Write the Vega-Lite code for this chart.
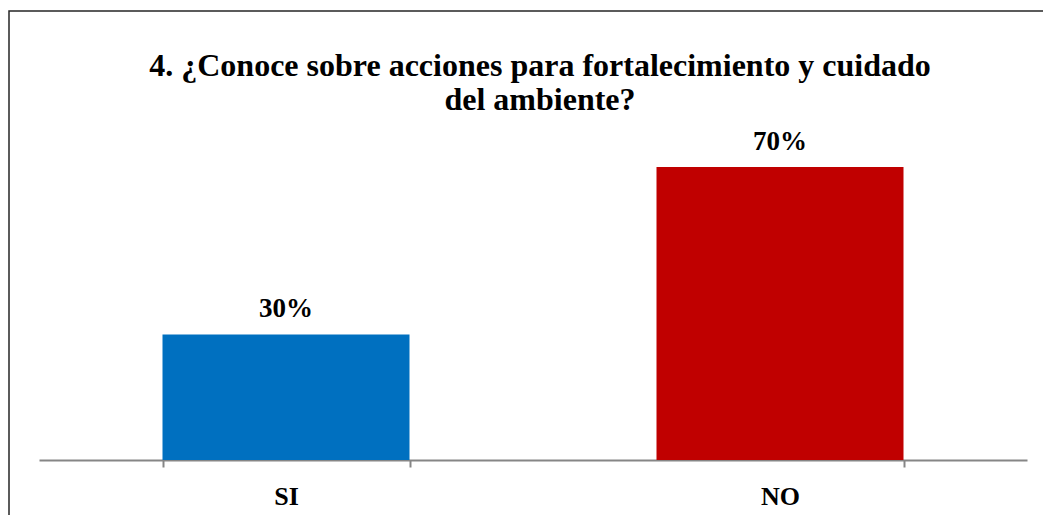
{
  "$schema": "https://vega.github.io/schema/vega-lite/v6.json",
  "autosize": "none",
  "padding": {"left": 9, "top": 11, "right": 0, "bottom": 0},
  "width": 1062,
  "height": 600,
  "background": "white",
  "config": {
    "view": {"stroke": "#262626", "strokeWidth": 1.5},
    "font": "Liberation Serif",
    "title": {"font": "Liberation Serif", "fontWeight": "bold"}
  },
  "title": {
    "text": ["4. ¿Conoce sobre acciones para fortalecimiento  y cuidado", "del ambiente?"],
    "anchor": "middle",
    "frame": "group",
    "orient": "top",
    "baseline": "alphabetic",
    "offset": -131,
    "fontSize": 32,
    "fontWeight": "bold",
    "font": "Liberation Serif",
    "color": "black",
    "lineHeight": 34
  },
  "data": {
    "values": [
      {"respuesta": "SI", "porcentaje": 0.30},
      {"respuesta": "NO", "porcentaje": 0.70}
    ]
  },
  "encoding": {
    "x": {
      "field": "respuesta",
      "type": "nominal",
      "sort": ["SI", "NO"],
      "scale": {"range": [30, 1018], "paddingInner": 0.5, "paddingOuter": 0.25},
      "axis": {
        "title": null,
        "offset": -151,
        "labelAngle": 0,
        "labelFont": "Liberation Serif",
        "labelFontSize": 26,
        "labelFontWeight": "bold",
        "labelColor": "black",
        "labelPadding": 16,
        "domainColor": "#868686",
        "domainWidth": 2,
        "tickColor": "#868686",
        "tickWidth": 2,
        "tickSize": 7,
        "tickBand": "extent",
        "grid": false
      }
    },
    "y": {
      "field": "porcentaje",
      "type": "quantitative",
      "scale": {"domain": [0, 0.8], "range": [449, 114], "nice": false},
      "axis": null
    }
  },
  "layer": [
    {
      "mark": {"type": "bar"},
      "encoding": {
        "color": {
          "field": "respuesta",
          "type": "nominal",
          "scale": {"domain": ["SI", "NO"], "range": ["#0070C0", "#C00000"]},
          "legend": null
        }
      }
    },
    {
      "mark": {"type": "text", "baseline": "alphabetic", "dy": -17, "fontSize": 27, "fontWeight": "bold", "font": "Liberation Serif", "color": "black"},
      "encoding": {
        "text": {"field": "porcentaje", "type": "quantitative", "format": ".0%"}
      }
    }
  ]
}
